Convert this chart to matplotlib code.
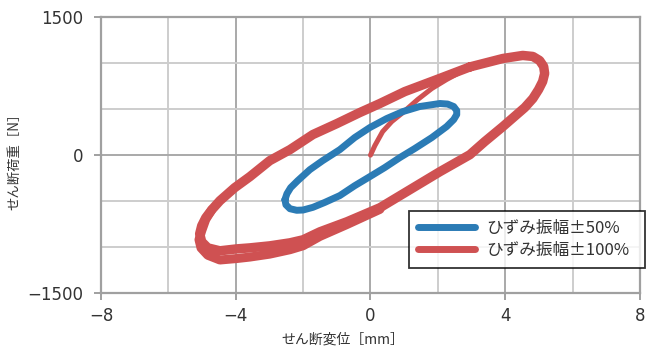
import numpy as np
import matplotlib.pyplot as plt

plt.rcParams['font.family'] = ['Noto Sans CJK JP', 'DejaVu Sans']

# ひずみ振幅±50% のループ (変位 mm, 荷重 N)
x50 = [-2.54, -2.48, -2.37, -2.16, -1.80, -1.42, -0.91, -0.47, -0.02, 0.48,
       0.96, 1.46, 2.06, 2.29, 2.47, 2.56, 2.56, 2.47, 2.26, 1.82,
       1.31, 0.87, 0.42, -0.02, -0.47, -0.91, -1.36, -1.71, -2.00, -2.19,
       -2.39, -2.51, -2.54]
y50 = [-485, -420, -354, -278, -158, -60, 60, 191, 300, 398,
       474, 529, 562, 556, 529, 485, 442, 387, 311, 191,
       71, -27, -136, -234, -333, -440, -515, -568, -597, -600,
       -583, -540, -485]

# ひずみ振幅±100% の初期載荷
x100_0 = [0.0, 0.13, 0.36, 0.63, 0.96, 1.40, 1.82, 2.26, 2.95]
y100_0 = [0, 104, 256, 365, 463, 605, 725, 823, 960]

# ひずみ振幅±100% のループ (1サイクル目)
x100 = [2.95, 3.93, 4.52, 4.82, 5.02, 5.14, 5.17, 5.11, 4.99, 4.82,
        4.58, 3.93, 3.39, 2.95, 2.06, 1.17, 0.28, -0.70, -1.50, -2.00,
        -2.39, -2.99, -3.58, -3.97, -4.47, -4.83, -5.01, -5.07, -5.01, -4.89,
        -4.71, -4.47, -4.03, -3.58, -2.99, -2.39, -1.71, -1.00, -0.32, 0.28,
        1.02, 1.97, 2.95]
y100 = [960, 1052, 1085, 1074, 1030, 965, 889, 801, 714, 616,
        518, 311, 147, 5, -180, -376, -572, -725, -834, -921,
        -954, -987, -1009, -1020, -1041, -1009, -943, -856, -769, -682,
        -594, -496, -354, -234, -60, 60, 224, 343, 463, 562,
        692, 823, 960]

# 2サイクル目の除荷側
x100_2 = [0.28, -0.70, -1.50, -2.00, -2.39, -2.99, -3.58, -3.97, -4.47, -4.83,
          -5.03, -5.09, -5.01, -4.89, -4.71]
y100_2 = [-590, -755, -884, -986, -1029, -1077, -1109, -1125, -1141, -1089,
          -1010, -920, -823, -700, -594]

red = '#cf5152'
blue = '#2b7bb5'

fig = plt.figure(figsize=(6.46, 3.49), dpi=100)
ax = fig.add_axes([0.1563, 0.1605, 0.8344, 0.7899])

ax.plot(x100_0, y100_0, color=red, lw=3.6, solid_capstyle='round', zorder=3)
ax.plot(x50, y50, color=blue, lw=5.0, solid_capstyle='round',
        solid_joinstyle='round', label='ひずみ振幅±50%', zorder=3)
ax.plot(x100_2, y100_2, color=red, lw=6.5, solid_capstyle='round',
        solid_joinstyle='round', zorder=3)
ax.plot(x100, y100, color=red, lw=6.8, solid_capstyle='round',
        solid_joinstyle='round', label='ひずみ振幅±100%', zorder=3)

ax.set_xlim(-8, 8)
ax.set_ylim(-1500, 1500)
ax.set_xticks([-8, -4, 0, 4, 8])
ax.set_xticks([-6, -2, 2, 6], minor=True)
ax.set_yticks([-1500, 0, 1500])
ax.set_yticks([-1000, -500, 500, 1000], minor=True)
ax.set_xticklabels(['−8', '−4', '0', '4', '8'], family='DejaVu Sans')
ax.set_yticklabels(['−1500', '0', '1500'], family='DejaVu Sans')
ax.grid(which='major', color='#a9a9a9', lw=1.4)
ax.grid(which='minor', color='#cdcdcd', lw=1.4)
ax.set_axisbelow(True)
for s in ax.spines.values():
    s.set_color('#a0a0a0')
    s.set_linewidth(1.6)
ax.tick_params(which='major', direction='out', length=5, width=1.4,
               color='#a0a0a0', labelsize=12, labelcolor='#333333')
ax.tick_params(axis='y', pad=8)
ax.tick_params(axis='x', pad=5)
ax.tick_params(which='minor', length=0)

ax.set_xlabel('せん断変位［mm］', fontsize=10, color='#333333', va='top')
ax.xaxis.set_label_coords(0.449, -0.145)
ax.set_ylabel('せん断荷重［N］', fontsize=9.6, color='#333333', va='center')
ax.yaxis.set_label_coords(-0.161, 0.49)

leg = ax.legend(loc='lower left', bbox_to_anchor=(0.571, 0.091, 0.438, 0.21),
                mode='expand', fontsize=12, frameon=True, fancybox=False,
                handlelength=3.4, handletextpad=0.7, borderaxespad=0,
                labelspacing=0.3, borderpad=0.55)
leg.get_frame().set_edgecolor('black')
leg.get_frame().set_linewidth(1.3)
leg.set_zorder(5)
for t in leg.get_texts():
    t.set_color('#333333')
for h in leg.get_lines():
    h.set_linewidth(5)

fig.savefig('out.png', dpi=100)
